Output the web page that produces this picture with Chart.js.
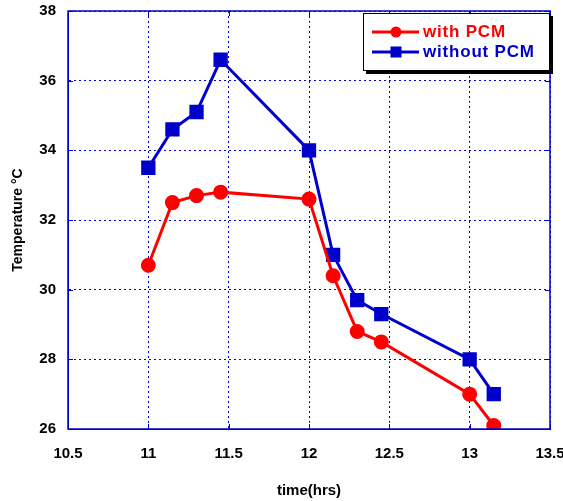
<!DOCTYPE html>
<html>
<head>
<meta charset="utf-8">
<script src="https://cdn.jsdelivr.net/npm/chart.js@4/dist/chart.umd.min.js"></script>
<style>
  html, body { margin: 0; padding: 0; background: #fff; }
  #wrap { position: relative; width: 563px; height: 501px; }
  #legend {
    position: absolute; left: 363px; top: 13px; width: 185px; height: 56px;
    background: #fff; border: 1px solid #000; box-shadow: 3px 3px 0 #000;
    font: bold 17px "Liberation Sans", Arial, sans-serif; letter-spacing: 0.8px;
  }
  .row { position: absolute; left: 8px; height: 20px; line-height: 20px; }
  .row svg { position: absolute; left: 0; top: 0; }
  .row span { position: absolute; left: 51px; white-space: nowrap; }
</style>
</head>
<body>
<div id="wrap">
  <canvas id="myChart" width="563" height="501"></canvas>
  <div id="legend">
    <div class="row" style="top:8px;color:#ff0000">
      <svg width="50" height="20"><line x1="0" y1="10" x2="47" y2="10" stroke="#ff0000" stroke-width="3"/><circle cx="24" cy="10" r="5.5" fill="#ff0000"/></svg>
      <span>with PCM</span>
    </div>
    <div class="row" style="top:28px;color:#0000cc">
      <svg width="50" height="20"><line x1="0" y1="10" x2="47" y2="10" stroke="#0000cc" stroke-width="3"/><rect x="18.5" y="4.5" width="11" height="11" fill="#0000cc"/></svg>
      <span>without PCM</span>
    </div>
  </div>
</div>
<script>
//Time of day (hours) for each reading
var times = [11, 11.15, 11.3, 11.45, 12, 12.15, 12.3, 12.45, 13, 13.15];
//Temperatures
var withPCM = [30.7, 32.5, 32.7, 32.8, 32.6, 30.4, 28.8, 28.5, 27.0, 26.1];
var withoutPCM = [33.5, 34.6, 35.1, 36.6, 34.0, 31.0, 29.7, 29.3, 28.0, 27.0];
//Tick values
var xTicks = [10.5, 11, 11.5, 12, 12.5, 13, 13.5];
var yTicks = [26, 28, 30, 32, 34, 36, 38];

function toPoints(xs, ys) {
  var pts = [];
  for (var i = 0; i < xs.length; i++) {
    pts.push({x: xs[i], y: ys[i]});
  }
  return pts;
}

var tickFont = {family: '"Liberation Sans", Arial, sans-serif', size: 15, weight: 'bold'};
var gridBlue = '#0000cc';

var ctx = document.getElementById('myChart');
var myChart = new Chart(ctx, {
  type: 'line',
  data: {
    datasets: [{
      label: 'with PCM',
      data: toPoints(times, withPCM),
      borderColor: '#ff0000',
      backgroundColor: '#ff0000',
      borderWidth: 3,
      pointStyle: 'circle',
      pointRadius: 6,
      tension: 0
    }, {
      label: 'without PCM',
      data: toPoints(times, withoutPCM),
      borderColor: '#0000cc',
      backgroundColor: '#0000cc',
      borderWidth: 3,
      pointStyle: 'rect',
      pointRadius: 8,
      tension: 0
    }]
  },
  options: {
    responsive: false,
    animation: false,
    layout: {padding: {left: 10, right: 13, top: 11, bottom: 1}},
    plugins: {
      legend: {display: false},
      tooltip: {enabled: false}
    },
    scales: {
      x: {
        type: 'linear',
        min: 10.5,
        max: 13.5,
        afterBuildTicks: function (scale) {
          scale.ticks = xTicks.map(function (v) { return {value: v}; });
        },
        afterFit: function (scale) {
          scale.height = 71;
          scale.paddingRight = 0;
          scale.paddingLeft = 0;
        },
        ticks: {color: '#000', font: tickFont, padding: 16, maxRotation: 0,
          callback: function (v) { return String(v); }},
        grid: {color: gridBlue, lineWidth: 1, drawTicks: false},
        border: {display: true, color: gridBlue, width: 1, dash: [2, 3]},
        title: {display: true, text: 'time(hrs)', color: '#000', font: tickFont, padding: {top: 20, bottom: 0}}
      },
      y: {
        min: 26,
        max: 38,
        afterBuildTicks: function (scale) {
          scale.ticks = yTicks.map(function (v) { return {value: v}; });
        },
        afterFit: function (scale) {
          scale.width = 58;
          scale.paddingTop = 0;
          scale.paddingBottom = 0;
        },
        ticks: {color: '#000', font: tickFont, padding: 12},
        grid: {color: gridBlue, lineWidth: 1, drawTicks: false},
        border: {display: true, color: gridBlue, width: 1, dash: [2, 3]},
        title: {display: true, text: 'Temperature \u00B0C', color: '#000', font: {family: tickFont.family, size: 14, weight: 'bold'}, padding: {top: 0, bottom: 6}}
      }
    }
  },
  plugins: [{
    //Solid frame and short inward tick marks around the plot
    id: 'frame',
    afterDatasetsDraw: function (chart) {
      var a = chart.chartArea;
      var c = chart.ctx;
      var xs = chart.scales.x;
      var ys = chart.scales.y;
      c.save();
      c.strokeStyle = gridBlue;
      c.lineWidth = 1.5;
      c.setLineDash([]);
      c.strokeRect(a.left, a.top, a.right - a.left, a.bottom - a.top);
      c.lineWidth = 1;
      c.beginPath();
      xTicks.forEach(function (v) {
        var px = Math.round(xs.getPixelForValue(v)) + 0.5;
        c.moveTo(px, a.bottom); c.lineTo(px, a.bottom - 5);
        c.moveTo(px, a.top); c.lineTo(px, a.top + 5);
      });
      yTicks.forEach(function (v) {
        var py = Math.round(ys.getPixelForValue(v)) + 0.5;
        c.moveTo(a.left, py); c.lineTo(a.left + 5, py);
        c.moveTo(a.right, py); c.lineTo(a.right - 5, py);
      });
      c.stroke();
      c.restore();
    }
  }]
});
</script>
</body>
</html>
